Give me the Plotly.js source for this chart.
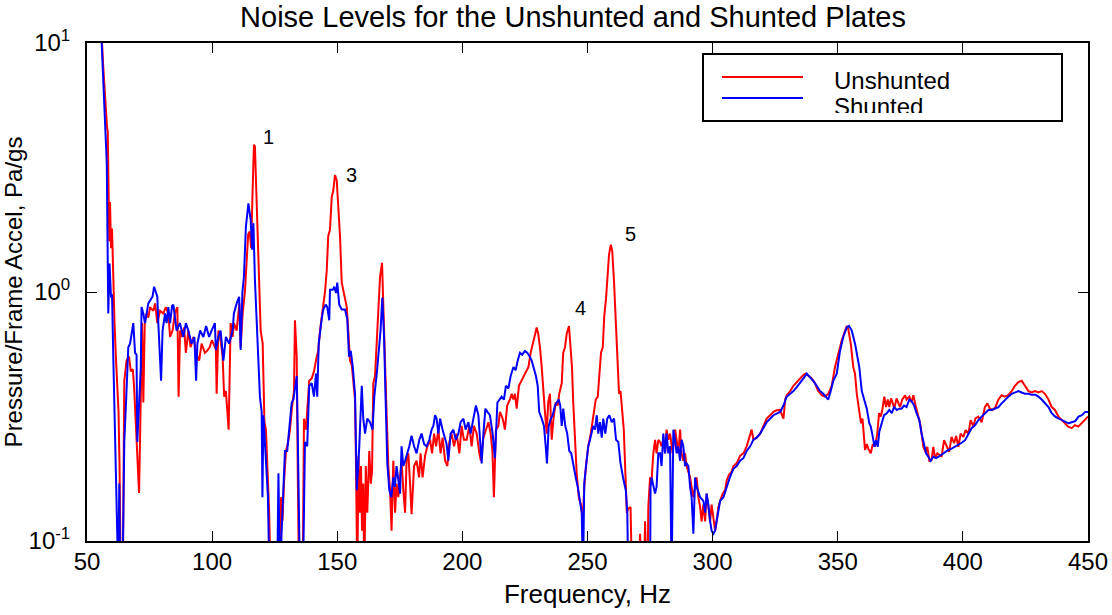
<!DOCTYPE html>
<html>
<head>
<meta charset="utf-8">
<script src="https://cdn.plot.ly/plotly-3.0.1.min.js"></script>
<style>html,body{margin:0;padding:0;background:#fff;}#chart{width:1112px;height:615px;}</style>
</head>
<body>
<div id="chart"></div>
<script>
// Frequency (Hz) and level (Pa/gs) for the unshunted plate
const freqUnshunted = [55.0,55.8,56.5,57.3,58.0,58.3,58.9,59.2,59.6,60.0,60.5,61.0,61.5,62.0,62.6,63.0,63.5,64.3,64.9,65.8,66.8,67.5,68.3,68.8,69.3,70.1,70.8,71.5,72.0,72.5,73.1,73.8,74.5,75.2,76.5,77.2,78.1,79.2,80.5,81.5,82.5,83.2,84.2,85.1,86.1,86.6,87.2,87.8,88.8,89.5,90.5,91.4,92.5,93.8,94.8,95.8,97.1,98.0,99.0,99.9,101.5,101.8,102.5,103.4,104.2,104.8,105.5,106.6,107.4,108.2,108.7,109.8,110.9,111.4,112.2,113.1,113.7,114.4,115.0,115.6,116.1,116.7,117.1,117.8,118.5,119.4,120.2,120.9,121.5,122.2,122.8,123.4,127.0,127.5,128.1,128.7,129.5,130.4,131.1,132.0,132.7,133.1,133.8,134.2,134.7,136.2,136.7,137.5,138.0,138.8,139.8,140.7,141.8,142.4,143.1,143.8,144.4,145.1,145.8,146.4,147.1,147.8,148.4,149.1,149.8,150.4,151.1,151.8,152.4,153.1,153.8,154.4,155.1,155.8,156.4,157.1,157.5,158.0,158.5,159.0,159.5,159.9,160.4,160.8,161.4,162.0,162.8,163.4,163.9,164.4,165.1,165.8,166.4,167.1,167.9,168.4,169.1,169.7,170.4,171.1,171.7,172.4,173.1,173.7,174.4,175.1,175.7,176.4,177.1,177.7,178.4,179.1,179.7,180.7,181.7,182.7,183.3,184.1,185.1,186.0,187.1,187.9,188.7,189.5,190.4,191.3,192.1,193.1,194.0,194.8,195.7,196.7,197.7,198.8,199.7,200.6,201.7,202.8,203.7,204.6,205.7,206.8,207.4,208.4,209.4,210.4,211.3,212.0,212.6,213.4,214.4,215.0,216.1,217.0,217.9,219.0,219.7,220.4,221.0,221.7,222.6,223.7,225.0,226.4,227.3,228.4,229.0,229.7,230.3,231.0,231.7,232.3,233.0,233.7,234.3,235.0,235.7,236.4,237.3,238.1,238.7,239.7,240.3,241.0,241.7,242.6,243.3,243.8,244.3,245.0,245.7,246.6,247.4,248.1,248.7,249.4,250.3,251.3,252.3,253.3,254.1,254.7,255.4,256.1,256.7,257.4,258.0,258.6,259.3,259.9,260.6,261.3,261.9,262.6,263.2,263.9,264.5,265.2,265.7,266.3,267.2,267.8,270.5,271.0,271.6,272.6,273.0,273.6,274.0,274.3,275.0,275.6,276.3,277.0,277.6,278.3,279.0,279.6,280.3,281.0,281.6,282.3,283.0,284.0,285.0,285.6,286.3,287.0,287.6,288.3,289.0,289.6,290.3,291.0,291.6,292.3,293.0,293.6,294.3,295.0,295.6,296.3,297.0,297.6,298.3,299.0,299.6,300.3,301.0,301.6,302.3,303.0,304.0,305.0,305.6,306.6,307.6,308.3,309.6,311.0,312.3,313.6,315.0,315.6,316.3,317.6,319.0,320.3,321.6,323.0,324.3,325.6,326.9,328.3,329.0,329.6,331.0,332.3,333.6,334.9,336.3,337.2,338.2,339.6,340.9,342.2,343.6,344.9,346.2,347.6,348.9,350.2,351.6,352.5,353.6,354.2,355.2,356.2,356.9,357.6,358.6,359.3,359.9,360.9,361.6,362.2,363.2,364.0,364.9,365.8,366.5,367.2,367.8,368.6,369.3,370.0,370.6,371.3,372.0,372.6,373.5,374.2,374.9,375.8,376.9,377.5,378.6,379.5,380.2,381.1,381.9,382.9,383.5,384.2,385.0,385.8,386.6,387.5,388.2,388.9,389.8,390.6,391.5,392.5,393.5,394.5,395.5,396.5,397.3,398.2,399.1,400.2,401.1,402.2,403.1,404.2,405.0,406.2,407.5,408.8,409.8,410.8,411.9,413.0,414.2,415.5,416.8,418.1,419.5,420.8,422.2,423.5,424.8,426.2,427.5,428.8,430.2,431.5,432.8,434.2,435.5,436.8,438.2,439.5,440.8,442.1,443.5,444.8,446.1,447.5,448.8,450.0];
const unshunted = [14,11,8.0,5.8,4.6,4.4,1.6,2.3,1.5,1.8,1.1,0.75,0.56,0.45,0.33,0.2,0.07,0.07,0.44,0.53,0.55,0.48,0.49,0.42,0.32,0.22,0.156,0.38,0.75,0.36,0.77,0.82,0.79,0.87,0.84,0.9,0.75,0.84,0.82,0.87,0.82,0.66,0.70,0.82,0.87,0.38,0.70,0.66,0.72,0.57,0.70,0.60,0.66,0.56,0.53,0.62,0.57,0.58,0.60,0.64,0.59,0.39,0.70,0.64,0.55,0.38,0.40,0.28,0.75,0.66,0.75,0.70,0.90,0.60,0.82,1.0,1.35,1.7,1.75,1.5,2.4,3.9,3.85,2.2,1.22,0.70,0.62,0.30,0.28,0.20,0.13,0.07,0.07,0.15,0.12,0.17,0.23,0.25,0.28,0.35,0.40,0.77,0.55,0.2,0.07,0.07,0.31,0.28,0.34,0.44,0.45,0.48,0.55,0.58,0.70,0.80,0.89,1.0,1.22,1.68,1.78,2.41,2.55,2.95,2.8,2.27,1.68,1.09,1.02,0.96,0.87,0.70,0.53,0.51,0.43,0.37,0.2,0.07,0.22,0.13,0.2,0.11,0.17,0.07,0.2,0.13,0.23,0.17,0.19,0.43,0.46,0.66,0.9,1.15,1.31,0.95,0.52,0.33,0.2,0.16,0.11,0.21,0.13,0.17,0.15,0.18,0.21,0.16,0.13,0.21,0.225,0.17,0.128,0.2,0.21,0.18,0.225,0.18,0.22,0.24,0.255,0.225,0.27,0.24,0.28,0.225,0.26,0.21,0.20,0.25,0.27,0.24,0.27,0.225,0.29,0.255,0.255,0.29,0.24,0.29,0.27,0.225,0.21,0.26,0.28,0.30,0.27,0.23,0.15,0.28,0.29,0.33,0.31,0.28,0.35,0.37,0.39,0.37,0.39,0.34,0.42,0.44,0.47,0.50,0.57,0.64,0.66,0.72,0.68,0.60,0.50,0.40,0.33,0.27,0.36,0.39,0.255,0.31,0.36,0.35,0.39,0.43,0.57,0.60,0.68,0.73,0.58,0.50,0.36,0.255,0.185,0.148,0.14,0.12,0.165,0.20,0.24,0.27,0.31,0.37,0.38,0.47,0.57,0.6,0.8,0.94,1.20,1.41,1.55,1.46,1.1,0.78,0.55,0.39,0.40,0.33,0.28,0.18,0.13,0.135,0.137,0.07,0.07,0.107,0.07,0.07,0.12,0.07,0.07,0.137,0.18,0.175,0.225,0.255,0.225,0.255,0.25,0.24,0.255,0.225,0.28,0.255,0.27,0.225,0.28,0.255,0.225,0.28,0.225,0.21,0.225,0.2,0.19,0.18,0.165,0.15,0.165,0.18,0.15,0.137,0.12,0.14,0.12,0.155,0.137,0.12,0.14,0.125,0.11,0.12,0.137,0.145,0.155,0.16,0.175,0.185,0.19,0.2,0.205,0.22,0.225,0.24,0.27,0.28,0.255,0.26,0.27,0.29,0.31,0.32,0.33,0.335,0.336,0.31,0.37,0.385,0.40,0.42,0.435,0.45,0.465,0.47,0.46,0.45,0.43,0.40,0.385,0.38,0.39,0.42,0.50,0.57,0.64,0.68,0.73,0.71,0.62,0.50,0.47,0.39,0.326,0.297,0.31,0.232,0.245,0.235,0.225,0.245,0.24,0.27,0.326,0.316,0.336,0.38,0.345,0.37,0.345,0.374,0.357,0.34,0.374,0.357,0.345,0.37,0.385,0.37,0.38,0.36,0.385,0.35,0.326,0.297,0.27,0.239,0.228,0.239,0.21,0.212,0.239,0.215,0.225,0.222,0.218,0.254,0.239,0.228,0.262,0.247,0.264,0.239,0.27,0.262,0.279,0.27,0.306,0.288,0.311,0.316,0.30,0.345,0.357,0.34,0.336,0.345,0.37,0.385,0.38,0.385,0.40,0.42,0.435,0.44,0.42,0.40,0.395,0.40,0.395,0.40,0.39,0.37,0.345,0.336,0.316,0.306,0.297,0.288,0.284,0.292,0.288,0.297,0.306,0.316];

// Frequency (Hz) and level (Pa/gs) for the shunted plate
const freqShunted = [55.0,55.7,56.5,57.2,57.9,58.5,59.0,59.6,60.0,60.5,61.0,61.5,62.1,62.5,62.9,63.3,64.2,64.9,65.7,66.5,67.2,68.0,68.5,69.2,69.8,70.1,70.8,71.5,71.8,72.5,73.2,73.8,74.5,75.4,76.2,76.8,77.5,78.1,78.5,79.6,80.2,81.2,81.8,82.5,83.2,84.0,84.5,85.2,85.8,87.1,88.5,89.5,90.5,91.8,92.9,93.6,94.1,95.2,96.5,97.6,98.8,99.8,101.1,101.5,102.5,103.4,104.5,105.5,106.8,108.2,108.7,109.8,110.8,111.4,112.1,112.7,113.5,114.5,115.4,116.0,116.5,117.1,118.1,119.1,119.8,120.1,120.5,121.1,121.8,122.3,122.9,126.0,126.5,127.1,127.8,128.4,129.1,130.0,130.8,131.8,132.5,133.2,133.8,134.2,134.7,135.1,136.3,137.1,138.0,138.8,139.8,140.7,141.5,142.0,142.6,143.1,143.8,144.4,145.4,146.0,146.8,147.1,148.2,148.8,149.5,150.0,150.8,151.8,153.1,154.0,154.7,155.4,156.2,157.1,157.8,158.8,159.8,160.4,161.1,162.0,163.1,164.1,164.8,165.8,166.4,167.3,168.0,168.7,169.3,170.0,170.8,171.6,172.4,173.0,173.7,174.4,175.1,175.7,176.4,177.1,178.0,178.8,179.7,180.7,181.7,182.8,183.7,184.7,185.7,186.8,187.7,188.4,189.1,189.7,190.4,191.1,192.1,193.1,193.7,194.4,195.3,196.4,197.4,198.4,199.3,200.4,201.3,202.4,203.3,204.4,205.4,206.4,207.0,207.7,208.4,209.2,210.0,211.0,212.1,213.0,214.0,214.8,215.7,216.6,217.4,218.4,219.3,220.4,221.3,222.1,223.0,223.9,225.0,225.9,226.7,227.7,228.4,229.4,230.1,230.7,231.7,232.6,233.3,233.8,234.5,235.3,236.1,237.0,237.7,238.5,239.1,239.7,240.3,241.1,241.9,242.7,243.5,244.3,245.3,246.1,247.0,247.7,248.2,248.7,249.4,250.3,251.0,252.3,253.0,253.7,254.3,255.0,255.7,256.3,257.1,257.9,258.7,259.7,260.6,261.4,262.3,263.2,264.2,265.3,265.9,266.3,275.0,275.2,275.6,276.3,277.0,277.6,278.3,279.0,279.6,280.3,281.0,281.6,282.3,283.0,283.6,284.3,285.0,285.6,286.3,287.0,287.6,288.3,289.0,289.6,290.3,291.0,291.6,292.3,293.0,293.6,295.0,296.3,297.0,297.6,298.3,299.0,299.6,300.3,301.0,301.6,303.0,304.3,305.6,306.9,308.3,309.6,311.0,312.3,313.6,315.0,316.3,317.6,319.0,320.3,321.6,323.0,324.3,325.6,327.0,328.3,329.6,331.0,332.3,333.6,334.9,336.3,337.6,338.9,340.2,341.6,342.9,344.2,345.2,346.2,347.2,348.2,349.6,350.9,352.2,353.6,354.5,355.6,356.9,357.6,358.6,359.6,360.5,361.6,362.6,363.2,364.0,364.7,365.3,366.0,366.6,367.6,368.5,369.6,370.6,371.6,372.5,373.6,374.6,375.5,376.5,377.5,378.6,379.5,380.5,381.5,382.6,383.5,384.5,385.3,386.2,387.1,388.2,389.3,390.3,391.5,392.9,394.2,395.5,396.9,398.2,399.5,400.9,402.2,403.5,404.9,406.2,407.5,408.9,410.2,411.5,412.9,414.2,415.5,416.9,418.2,419.5,420.9,422.2,423.5,424.9,426.2,427.5,428.9,430.2,431.5,432.9,434.2,435.5,436.9,438.2,439.5,440.9,442.2,443.5,444.9,446.2,447.6,448.9,450.0];
const shunted = [16,10.5,7.1,5.0,3.3,0.82,1.3,0.95,0.98,0.55,0.35,0.22,0.14,0.07,0.17,0.07,0.07,0.25,0.38,0.60,0.62,0.70,0.75,0.57,0.56,0.25,0.38,0.50,0.87,0.82,0.75,0.82,0.90,0.93,0.96,1.05,1.0,0.957,0.75,0.44,0.70,0.82,0.75,0.87,0.75,0.88,0.89,0.78,0.70,0.75,0.66,0.75,0.70,0.62,0.66,0.44,0.62,0.70,0.66,0.73,0.66,0.70,0.75,0.585,0.66,0.70,0.53,0.66,0.62,0.70,0.82,0.90,0.957,0.585,1.0,1.15,1.83,2.27,1.95,1.48,1.89,1.12,0.66,0.38,0.33,0.15,0.32,0.24,0.19,0.15,0.07,0.07,0.187,0.07,0.11,0.15,0.23,0.23,0.28,0.36,0.37,0.43,0.46,0.28,0.15,0.07,0.07,0.25,0.24,0.42,0.43,0.38,0.47,0.38,0.62,0.70,0.78,0.85,0.89,0.87,0.77,1.02,1.02,1.05,0.99,1.09,0.89,0.85,0.85,0.78,0.55,0.58,0.50,0.39,0.16,0.24,0.42,0.31,0.27,0.31,0.30,0.28,0.38,0.47,0.55,0.70,0.95,0.66,0.38,0.205,0.16,0.15,0.18,0.165,0.20,0.18,0.155,0.24,0.20,0.21,0.225,0.24,0.265,0.24,0.225,0.255,0.27,0.245,0.24,0.255,0.28,0.29,0.32,0.31,0.27,0.31,0.28,0.255,0.245,0.21,0.27,0.28,0.255,0.27,0.30,0.31,0.28,0.30,0.27,0.31,0.35,0.32,0.27,0.205,0.27,0.34,0.33,0.32,0.27,0.215,0.36,0.37,0.38,0.37,0.42,0.41,0.46,0.50,0.485,0.53,0.57,0.56,0.58,0.57,0.555,0.53,0.50,0.46,0.42,0.33,0.31,0.29,0.24,0.205,0.29,0.31,0.32,0.35,0.36,0.37,0.35,0.29,0.34,0.29,0.27,0.23,0.225,0.20,0.18,0.165,0.145,0.13,0.07,0.17,0.20,0.24,0.255,0.29,0.28,0.32,0.27,0.30,0.26,0.31,0.27,0.31,0.32,0.30,0.31,0.255,0.25,0.205,0.18,0.16,0.13,0.07,0.07,0.165,0.18,0.165,0.155,0.165,0.225,0.225,0.20,0.27,0.225,0.27,0.225,0.24,0.07,0.28,0.255,0.225,0.24,0.21,0.255,0.24,0.20,0.205,0.20,0.165,0.15,0.107,0.18,0.165,0.15,0.145,0.13,0.155,0.14,0.12,0.11,0.107,0.11,0.12,0.145,0.15,0.165,0.18,0.195,0.20,0.21,0.215,0.23,0.24,0.255,0.26,0.27,0.285,0.30,0.31,0.32,0.325,0.33,0.35,0.38,0.39,0.40,0.415,0.43,0.45,0.47,0.455,0.44,0.42,0.40,0.39,0.38,0.37,0.40,0.44,0.47,0.58,0.66,0.72,0.73,0.70,0.62,0.57,0.50,0.40,0.37,0.34,0.297,0.288,0.262,0.239,0.254,0.239,0.275,0.297,0.32,0.326,0.336,0.326,0.345,0.336,0.34,0.34,0.35,0.345,0.37,0.364,0.35,0.326,0.306,0.27,0.245,0.225,0.218,0.21,0.218,0.215,0.218,0.222,0.228,0.232,0.235,0.239,0.243,0.248,0.254,0.27,0.284,0.292,0.306,0.316,0.326,0.336,0.336,0.34,0.345,0.357,0.37,0.38,0.39,0.395,0.40,0.395,0.39,0.39,0.387,0.387,0.38,0.37,0.357,0.345,0.326,0.316,0.311,0.306,0.303,0.297,0.30,0.303,0.316,0.32,0.33,0.33];

// Tick labels and texts
const xTicks = [50,100,150,200,250,300,350,400,450];
const yTicks = [0.1,1,10];
const yTickLabels = ['10<sup>-1</sup>','10<sup>0</sup>','10<sup>1</sup>'];
const seriesNames = ['Unshunted','Shunted'];
const peakLabels = ['1','3','4','5'];
const peakFreq = [122.4,155.6,247.2,267.0];
const peakLevel = [4.2,2.95,0.86,1.71];

const FONT = 'Liberation Sans, Arial, Helvetica, sans-serif';
const W = 1112, H = 615, L = 87, R = 24, T = 43, B = 74;
const pw = W - L - R, ph = H - T - B;
const px = v => (v - L) / pw;          // pixel x -> paper x
const py = v => (H - B - v) / ph;      // pixel y -> paper y

const traces = [
  {x: freqUnshunted, y: unshunted, name: seriesNames[0], type: 'scatter', mode: 'lines',
   line: {color: '#ff0000', width: 2}, showlegend: false},
  {x: freqShunted, y: shunted, name: seriesNames[1], type: 'scatter', mode: 'lines',
   line: {color: '#0000ff', width: 2}, showlegend: false}
];

const annotations = peakLabels.map((t, i) => ({
  x: peakFreq[i], y: Math.log10(peakLevel[i]), xref: 'x', yref: 'y', text: t,
  showarrow: false, font: {family: FONT, size: 20, color: '#000'}, xanchor: 'center', yanchor: 'middle'
}));
annotations.push(
  {xref: 'paper', yref: 'paper', x: px(832), y: py(80), text: seriesNames[0], showarrow: false,
   xanchor: 'left', yanchor: 'middle', font: {family: FONT, size: 24, color: '#000'}},
  {xref: 'paper', yref: 'paper', x: px(832), y: py(106), text: seriesNames[1], showarrow: false,
   xanchor: 'left', yanchor: 'middle', font: {family: FONT, size: 24, color: '#000'}},
  {xref: 'paper', yref: 'paper', x: px(826), y: py(113), text: '&nbsp;', showarrow: false,
   xanchor: 'left', yanchor: 'top', width: 110, height: 7, bgcolor: '#ffffff', borderpad: 0,
   borderwidth: 0, font: {size: 4}}
);

const shapes = [
  {type: 'rect', xref: 'paper', yref: 'paper', x0: px(703), x1: px(1062), y0: py(121), y1: py(54),
   line: {color: '#000', width: 2}, fillcolor: '#ffffff', layer: 'above'},
  {type: 'line', xref: 'paper', yref: 'paper', x0: px(722), x1: px(803), y0: py(77), y1: py(77),
   line: {color: '#ff0000', width: 2}, layer: 'above'},
  {type: 'line', xref: 'paper', yref: 'paper', x0: px(722), x1: px(803), y0: py(98), y1: py(98),
   line: {color: '#0000ff', width: 2}, layer: 'above'}
];

const axisCommon = {
  showline: true, linecolor: '#000', linewidth: 2, mirror: 'ticks',
  ticks: 'inside', ticklen: 10, tickwidth: 1, tickcolor: '#000',
  showgrid: false, zeroline: false,
  tickfont: {family: FONT, size: 24, color: '#000'}
};

const layout = {
  width: W, height: H,
  margin: {l: L, r: R, t: T, b: B, pad: 0},
  paper_bgcolor: '#fff', plot_bgcolor: '#fff',
  font: {family: FONT, color: '#000'},
  title: {text: 'Noise Levels for the Unshunted and Shunted Plates',
          font: {family: FONT, size: 29, color: '#000'},
          x: 573 / W, xref: 'container', xanchor: 'center',
          y: 1 - 17 / H, yref: 'container', yanchor: 'middle'},
  xaxis: Object.assign({}, axisCommon, {
    range: [50, 450], tickvals: xTicks, ticktext: xTicks.map(String), ticklabelstandoff: -2,
    title: {text: 'Frequency, Hz', font: {family: FONT, size: 26, color: '#000'}, standoff: 11}
  }),
  yaxis: Object.assign({}, axisCommon, {
    type: 'log', range: [-1, 1], tickvals: yTicks, ticktext: yTickLabels, ticklabelstandoff: 10,
    title: {text: 'Pressure/Frame Accel, Pa/gs', font: {family: FONT, size: 24, color: '#000'}, standoff: 2}
  }),
  annotations: annotations,
  shapes: shapes,
  showlegend: false
};

Plotly.newPlot('chart', traces, layout, {displayModeBar: false, staticPlot: true});
</script>
</body>
</html>
